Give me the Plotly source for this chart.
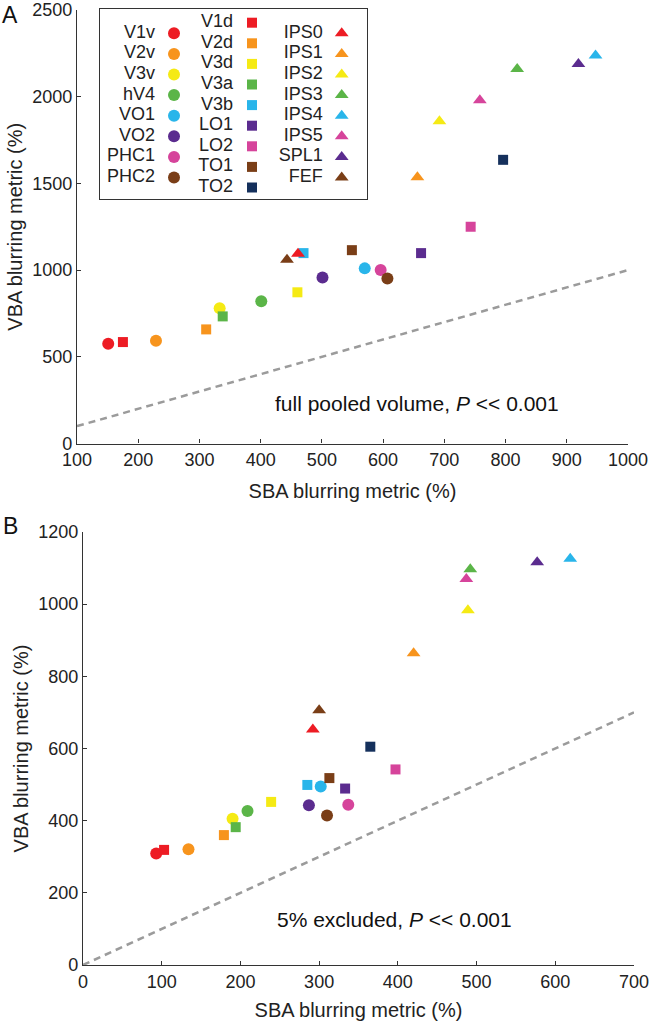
import plotly.graph_objects as go

# ROI names and colours, grouped by marker shape (as in the legend)
circle_names = ["V1v", "V2v", "V3v", "hV4", "VO1", "VO2", "PHC1", "PHC2"]
circle_colors = ["#ED1C24", "#F7941D", "#F5EA14", "#5BB548", "#29B5EA", "#5B2C8F", "#D6449B", "#7A3E17"]

square_names = ["V1d", "V2d", "V3d", "V3a", "V3b", "LO1", "LO2", "TO1", "TO2"]
square_colors = ["#ED1C24", "#F7941D", "#F5EA14", "#5BB548", "#29B5EA", "#5B2C8F", "#D6449B", "#7A3E17", "#15305C"]

tri_names = ["IPS0", "IPS1", "IPS2", "IPS3", "IPS4", "IPS5", "SPL1", "FEF"]
tri_colors = ["#ED1C24", "#F7941D", "#F5EA14", "#5BB548", "#29B5EA", "#D6449B", "#5B2C8F", "#7A3E17"]

# panel A: full pooled volume
a_circle_sba = [151, 229, 333, 401, 570, 501, 596, 607]
a_circle_vba = [575, 592, 780, 820, 1010, 957, 1000, 952]
a_square_sba = [175, 311, 460, 338, 470, 662, 743, 549, 796]
a_square_vba = [585, 658, 872, 733, 1098, 1098, 1250, 1115, 1636]
a_tri_sba = [461, 656, 692, 819, 947, 758, 919, 443]
a_tri_vba = [1095, 1535, 1858, 2160, 2238, 1980, 2188, 1060]

# panel B: 5% excluded
b_circle_sba = [93, 134, 190, 209, 302, 287, 337, 310]
b_circle_vba = [309, 321, 405, 427, 495, 443, 444, 414]
b_square_sba = [103, 179, 239, 194, 285, 333, 397, 313, 365]
b_square_vba = [319, 360, 452, 382, 499, 489, 542, 518, 605]
b_tri_sba = [292, 420, 489, 492, 619, 487, 577, 300]
b_tri_vba = [653, 864, 983, 1097, 1126, 1070, 1116, 706]

unity_a = [100, 1000]
unity_b = [0, 700]

FONT = "Liberation Sans, Arial, Helvetica, sans-serif"
W, H = 650, 1021

fig = go.Figure()


def add_panel(xa, ya, cx, cy, sx, sy, tx, ty, unity):
    fig.add_trace(go.Scatter(x=unity, y=unity, mode="lines", xaxis=xa, yaxis=ya,
                             line=dict(color="#9b9b9b", width=2.5, dash="7px,5px")))
    fig.add_trace(go.Scatter(x=cx, y=cy, mode="markers", xaxis=xa, yaxis=ya, cliponaxis=False,
                             marker=dict(symbol="circle", size=12, color=circle_colors)))
    fig.add_trace(go.Scatter(x=sx, y=sy, mode="markers", xaxis=xa, yaxis=ya, cliponaxis=False,
                             marker=dict(symbol="square", size=10, color=square_colors)))
    fig.add_trace(go.Scatter(x=tx, y=ty, mode="markers", xaxis=xa, yaxis=ya, cliponaxis=False,
                             marker=dict(symbol="triangle-up", size=12, color=tri_colors)))


add_panel("x", "y", a_circle_sba, a_circle_vba, a_square_sba, a_square_vba, a_tri_sba, a_tri_vba, unity_a)
add_panel("x2", "y2", b_circle_sba, b_circle_vba, b_square_sba, b_square_vba, b_tri_sba, b_tri_vba, unity_b)

# hand-made legend: label on the left, marker on the right, three columns
# legend axis uses pixel units (x 100..367, y 9..199 top-down)
step = 20.6
columns = [
    (circle_names, circle_colors, "circle", 12, 174, 33.3),
    (square_names, square_colors, "square", 10, 252, 22.7),
    (tri_names, tri_colors, "triangle-up", 12, 341.7, 33.3),
]
for names, colors, sym, size, mx, y0 in columns:
    ys = [y0 + step * i for i in range(len(names))]
    fig.add_trace(go.Scatter(x=[mx] * len(names), y=ys, mode="markers", xaxis="x3", yaxis="y3",
                             marker=dict(symbol=sym, size=size, color=colors)))
    fig.add_trace(go.Scatter(x=[mx - 19] * len(names), y=ys, mode="text", text=names,
                             textposition="middle left", xaxis="x3", yaxis="y3",
                             textfont=dict(family=FONT, size=18, color="#222")))

axis_style = dict(
    showline=True, linecolor="#333", linewidth=1.3, showgrid=False, zeroline=False,
    ticks="inside", ticklen=4, tickcolor="#333", tickwidth=1.2, automargin=False,
    ticklabeloverflow="allow",
    tickfont=dict(family=FONT, size=18, color="#222"),
)
title_font = dict(family=FONT, size=20, color="#222")


def px(p):
    return p / W


def py(p):
    return 1 - p / H


def note(text, x, y, size):
    return dict(text=text, x=px(x), y=py(y), xref="paper", yref="paper", showarrow=False,
                xanchor="center", yanchor="middle", font=dict(family=FONT, size=size, color="#111"))


fig.update_layout(
    width=W, height=H, margin=dict(l=0, r=0, t=0, b=0),
    plot_bgcolor="white", paper_bgcolor="white", showlegend=False,
    xaxis=dict(domain=[px(77), px(628)], range=[100, 1000], dtick=100, anchor="y",
               title=dict(text="SBA blurring metric (%)", font=title_font, standoff=14),
               **axis_style),
    yaxis=dict(domain=[py(443.5), py(10)], range=[0, 2500], dtick=500, anchor="x",
               title=dict(text="VBA blurring metric (%)", font=title_font, standoff=4),
               **axis_style),
    xaxis2=dict(domain=[px(83), px(634)], range=[0, 700], dtick=100, anchor="y2",
                title=dict(text="SBA blurring metric (%)", font=title_font, standoff=13),
                **axis_style),
    yaxis2=dict(domain=[py(965), py(532)], range=[0, 1200], dtick=200, anchor="x2",
                title=dict(text="VBA blurring metric (%)", font=title_font, standoff=4),
                **axis_style),
    xaxis3=dict(domain=[px(100), px(367)], range=[100, 367], anchor="y3", showgrid=False, zeroline=False,
                showticklabels=False, ticks="", showline=True, mirror=True, linecolor="#333", linewidth=1.3,
                automargin=False),
    yaxis3=dict(domain=[py(199), py(9)], range=[199, 9], anchor="x3", showgrid=False, zeroline=False,
                showticklabels=False, ticks="", showline=True, mirror=True, linecolor="#333", linewidth=1.3,
                automargin=False),
    annotations=[
        note("full pooled volume, <i>P</i> << 0.001", 417, 403, 21),
        note("5% excluded, <i>P</i> << 0.001", 394, 919, 21),
        note("A", 10, 15, 23),
        note("B", 10, 526, 23),
    ],
)

# drop the browser's default 8px body margin so the figure sits at the page corner
fig.write_html("out.html", config={"displayModeBar": False},
               post_script="document.body.style.margin = '0';")
